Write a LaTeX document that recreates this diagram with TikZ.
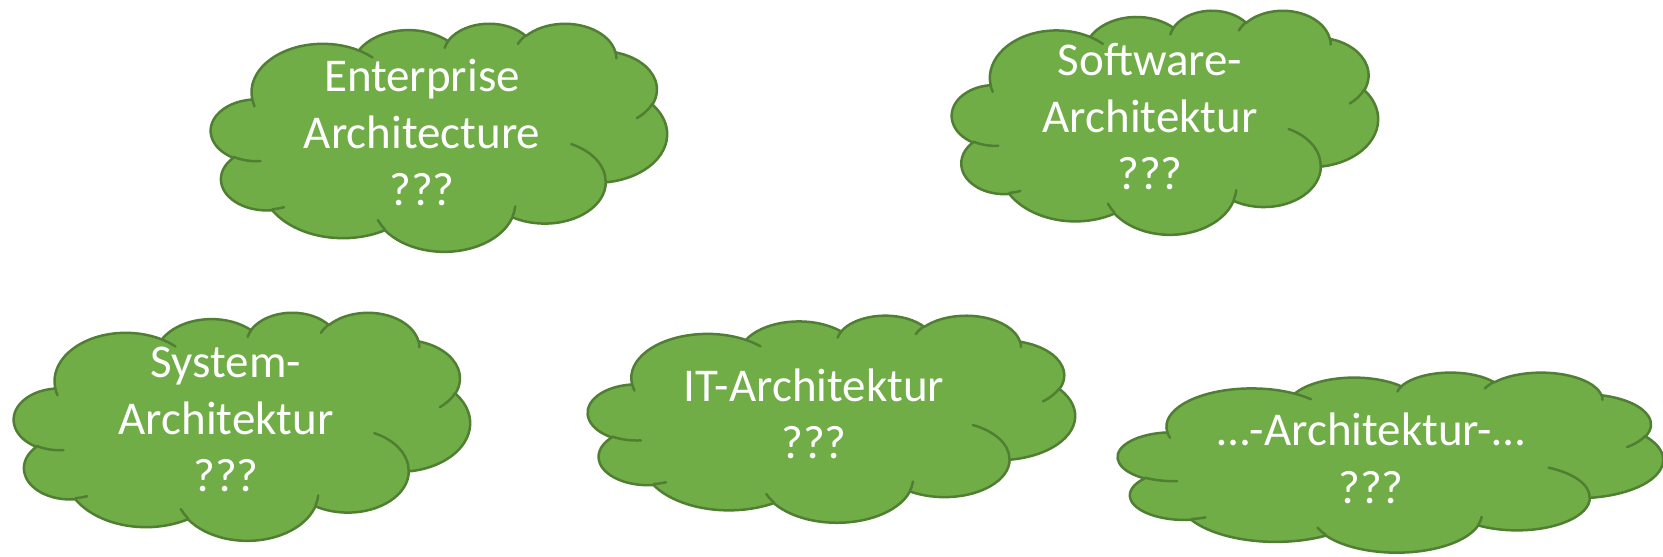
\documentclass[tikz,border=0pt]{standalone}
\usepackage{fontspec}
\setmainfont{Carlito}
\definecolor{cfill}{HTML}{70AD47}
\definecolor{cline}{HTML}{507E32}
% parametric angle of a DrawingML "visual" ellipse angle
\pgfmathdeclarefunction{cpa}{3}{\pgfmathparse{atan2((#1)*sin(#3),(#2)*cos(#3))}}
\pgfmathdeclarefunction{cpd}{4}{%
  \pgfmathparse{cpa(#1,#2,#3+#4)-cpa(#1,#2,#3)}\let\cpdtmp\pgfmathresult
  \pgfmathparse{\cpdtmp-360*round((\cpdtmp-(#4))/360)}}
\newcommand\carc[4]{arc[start angle={cpa(#1,#2,#3)}, delta angle={cpd(#1,#2,#3,#4)}, x radius=#1, y radius=#2]}
\tikzset{
  cloudbody/.style={fill=cfill, draw=cline, line width=2.5pt, line join=round},
  cloudinner/.style={draw=cline, line width=2.5pt, line cap=round},
  lbl/.style={text=white, font=\fontsize{47}{57}\selectfont, inner sep=0pt, anchor=base}
}
\newcommand\cloudshape[4]{%
  \begin{scope}[shift={(#1,#2)}, xscale=#3/43.2, yscale=#4/43.2]
    \path[cloudbody] (3.9,14.37)
      \carc{6.753}{9.19}{-190.48748}{123.78053}
      \carc{5.333}{7.267}{-144.10238}{89.94523}
      \carc{4.365}{5.945}{-145.80792}{99.72302}
      \carc{4.857}{6.595}{-130.98607}{117.24173}
      \carc{5.333}{7.273}{-78.70888}{109.02692}
      \carc{6.775}{9.22}{-46.26725}{130.269}
      \carc{5.785}{7.867}{0.62502}{114.03333}
      \carc{6.752}{9.215}{22.4516}{115.17255}
      \carc{7.72}{10.543}{66.24263}{75.71102}
      \carc{4.36}{5.918}{-274.94208}{146.73557}
      \carc{4.345}{5.945}{-246.8285}{152.51885}
      -- cycle;
    \path[cloudinner]
      (4.693,26.177) \carc{4.345}{5.945}{86.742}{26.4295}
      (6.928,34.899) \carc{4.36}{5.918}{73.61047}{11.44747}
      (16.478,39.09) \carc{6.752}{9.215}{137.62415}{14.0811}
      (28.827,34.751) \carc{6.752}{9.215}{6.45327}{15.99835}
      (34.129,22.954) \carc{5.785}{7.867}{-70.29235}{70.91737}
      (41.798,15.354) \carc{5.333}{7.273}{30.31803}{27.7515}
      (38.324,5.426) \carc{4.857}{6.595}{-13.74433}{14.8589}
      (29.078,3.952) \carc{4.857}{6.595}{-149.18145}{18.19537}
      (22.141,4.72) \carc{4.365}{5.945}{-163.49427}{17.68635}
      (14.0,5.192) \carc{6.753}{9.19}{-66.70695}{12.31935}
      (4.127,15.789) \carc{6.753}{9.19}{157.65435}{11.85817};
  \end{scope}}
\begin{document}
\begin{tikzpicture}[x=1pt,y=-1pt]
  \useasboundingbox (0,0) rectangle (1663,557);
  % clouds
  \cloudshape{211}{23}{456}{228}
  \cloudshape{952}{10}{426}{224}
  \cloudshape{14}{312}{456}{228}
  \cloudshape{588}{315}{487}{207}
  \cloudshape{1118}{372}{545}{180}
  % texts
  \node[lbl] (e1) at (422,91) {Enterprise};
  \node[lbl] (e2) at (422,148) {Architecture};
  \node[lbl] (e3) at (422,205) {???};
  \node[lbl] (s1) at (1150,75) {Software-};
  \node[lbl] (s2) at (1150,132) {Architektur};
  \node[lbl] (s3) at (1150,189) {???};
  \node[lbl] (y1) at (226,377) {System-};
  \node[lbl] (y2) at (226,434) {Architektur};
  \node[lbl] (y3) at (226,491) {???};
  \node[lbl] (i1) at (814,401) {IT-Architektur};
  \node[lbl] (i2) at (814,458) {???};
  \node[lbl] (d1) at (1371,445) {…-Architektur-…};
  \node[lbl] (d2) at (1371,503) {???};
\end{tikzpicture}
\end{document}
